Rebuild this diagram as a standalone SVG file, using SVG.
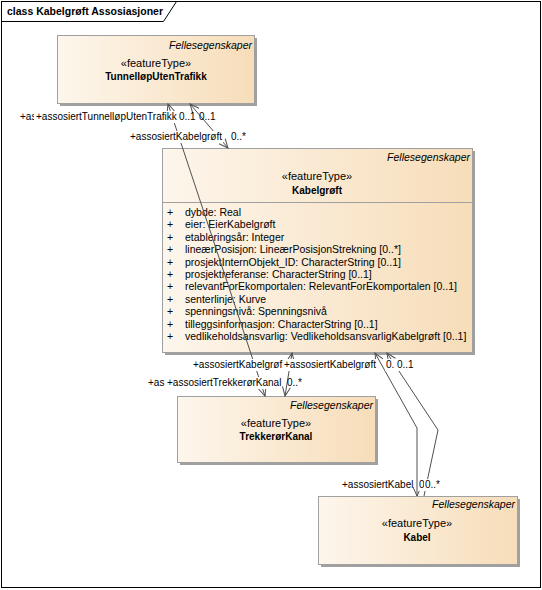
<svg xmlns="http://www.w3.org/2000/svg" width="542" height="590" viewBox="0 0 542 590">
<style>
text{font-family:"Liberation Sans",Arial,sans-serif;fill:#000}
.box{fill:url(#g);stroke:#a0a0a0;stroke-width:1}
.sh{fill:#a0a0a0}
.pk{font-size:10.5px;font-style:italic;text-anchor:end}
.st{font-size:11px;text-anchor:middle}
.nm{font-size:10px;font-weight:bold;text-anchor:middle}
.at{font-size:10.5px}
.lb{font-size:10px}
.bg{fill:#fff}
.cn{fill:none;stroke:#505050;stroke-width:1}
</style>
<defs>
<linearGradient id="g" x1="0" y1="0" x2="1" y2="0">
<stop offset="0" stop-color="#fdf6ec"/>
<stop offset="1" stop-color="#f7ddb9"/>
</linearGradient>
<marker id="ar" markerUnits="userSpaceOnUse" markerWidth="12" markerHeight="12" refX="10" refY="5" orient="auto-start-reverse">
<path d="M1,1 L10,5 L1,9" fill="none" stroke="#505050" stroke-width="1"/>
</marker>
</defs>
<rect x="0" y="0" width="542" height="590" fill="#fff"/>
<g id="frame">
<rect x="1.5" y="1.5" width="539" height="586" fill="none" stroke="#000"/>
<polyline points="1.5,21.5 163.5,21.5 176.5,1.5" fill="none" stroke="#000"/>
<text x="7" y="15" style="font-size:10.5px;font-weight:bold">class Kabelgrøft Assosiasjoner</text>
</g>
<g id="TunnellopUtenTrafikk">
<rect class="sh" x="60" y="38" width="197" height="68"/>
<rect class="box" x="57.5" y="35.5" width="197" height="68"/>
<text class="pk" x="252" y="49">Fellesegenskaper</text>
<text class="st" x="156" y="67">«featureType»</text>
<text class="nm" x="156" y="80">TunnelløpUtenTrafikk</text>
</g>
<g id="Kabelgroft">
<rect class="sh" x="165" y="151" width="310" height="204"/>
<rect class="box" x="162.5" y="148.5" width="310" height="204"/>
<text class="pk" x="470" y="161">Fellesegenskaper</text>
<text class="st" x="317" y="180">«featureType»</text>
<text class="nm" x="317" y="194">Kabelgrøft</text>
<line x1="162.5" y1="202.5" x2="472.5" y2="202.5" stroke="#a0a0a0"/>
<g class="at">
<text x="167" y="216">+</text><text x="185" y="216">dybde: Real</text>
<text x="167" y="228.4">+</text><text x="185" y="228.4">eier: EierKabelgrøft</text>
<text x="167" y="240.8">+</text><text x="185" y="240.8">etableringsår: Integer</text>
<text x="167" y="253.2">+</text><text x="185" y="253.2">lineærPosisjon: LineærPosisjonStrekning [0..*]</text>
<text x="167" y="265.6">+</text><text x="185" y="265.6">prosjektInternObjekt_ID: CharacterString [0..1]</text>
<text x="167" y="278">+</text><text x="185" y="278">prosjektreferanse: CharacterString [0..1]</text>
<text x="167" y="290.4">+</text><text x="185" y="290.4">relevantForEkomportalen: RelevantForEkomportalen [0..1]</text>
<text x="167" y="302.8">+</text><text x="185" y="302.8">senterlinje: Kurve</text>
<text x="167" y="315.2">+</text><text x="185" y="315.2">spenningsnivå: Spenningsnivå</text>
<text x="167" y="327.6">+</text><text x="185" y="327.6">tilleggsinformasjon: CharacterString [0..1]</text>
<text x="167" y="340">+</text><text x="185" y="340">vedlikeholdsansvarlig: VedlikeholdsansvarligKabelgrøft [0..1]</text>
</g>
</g>
<g id="TrekkerorKanal">
<rect class="sh" x="180" y="399" width="198" height="66"/>
<rect class="box" x="177.5" y="396.5" width="198" height="66"/>
<text class="pk" x="373" y="409">Fellesegenskaper</text>
<text class="st" x="276" y="427">«featureType»</text>
<text class="nm" x="276" y="440">TrekkerørKanal</text>
</g>
<g id="Kabel">
<rect class="sh" x="321" y="499" width="199" height="68"/>
<rect class="box" x="318.5" y="496.5" width="199" height="68"/>
<text class="pk" x="515" y="508">Fellesegenskaper</text>
<text class="st" x="417" y="527">«featureType»</text>
<text class="nm" x="417" y="541">Kabel</text>
</g>
<g id="connectors">
<line class="cn" x1="190" y1="104" x2="228" y2="148" marker-start="url(#ar)" marker-end="url(#ar)"/>
<line class="cn" x1="168" y1="104" x2="265" y2="396" marker-start="url(#ar)" marker-end="url(#ar)"/>
<line class="cn" x1="292" y1="353" x2="285" y2="396" marker-start="url(#ar)" marker-end="url(#ar)"/>
<polyline class="cn" points="375,353 417,428 417,496" marker-start="url(#ar)" marker-end="url(#ar)"/>
<polyline class="cn" points="387,353 438,430 424,496" marker-start="url(#ar)"/>
</g>
<g id="labels" class="lb">
<rect class="bg" x="19" y="111" width="14" height="12"/>
<text x="20" y="120">+as</text>
<rect class="bg" x="34" y="111" width="144" height="12"/>
<text x="36" y="120">+assosiertTunnelløpUtenTrafikk</text>
<text x="179" y="120">0..1</text>
<text x="199" y="120">0..1</text>
<rect class="bg" x="129" y="131" width="94" height="12"/>
<text x="130" y="140">+assosiertKabelgrøft</text>
<text x="231" y="140">0..*</text>
<rect class="bg" x="192" y="359" width="91" height="12"/>
<text x="193" y="368">+assosiertKabelgrøf</text>
<rect class="bg" x="283" y="359" width="94" height="12"/>
<text x="284" y="368">+assosiertKabelgrøft</text>
<rect class="bg" x="385" y="359" width="10" height="12"/>
<text x="386" y="368">0.</text>
<rect class="bg" x="395" y="359" width="19" height="12"/>
<text x="397" y="368">0..1</text>
<rect class="bg" x="147" y="377" width="18" height="12"/>
<text x="148" y="386">+as</text>
<rect class="bg" x="166" y="377" width="115" height="12"/>
<text x="167" y="386">+assosiertTrekkerørKanal</text>
<text x="287" y="386">0..*</text>
<rect class="bg" x="341" y="479" width="72" height="12"/>
<text x="342" y="488">+assosiertKabel</text>
<rect class="bg" x="418" y="479" width="6" height="12"/>
<text x="419" y="488">0</text>
<rect class="bg" x="424" y="479" width="17" height="12"/>
<text x="425" y="488">0..*</text>
</g>
</svg>
